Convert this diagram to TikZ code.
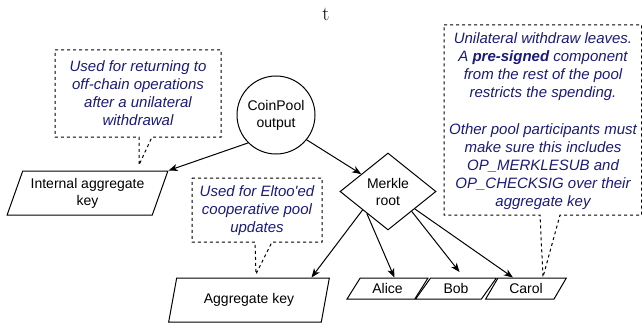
\documentclass[tikz,border=0pt]{standalone}
\usepackage{fontspec}
\setsansfont{Liberation Sans}
\usepackage{tikz}
\usetikzlibrary{shapes.geometric,arrows.meta,calc}
\definecolor{notecolor}{RGB}{26,26,120}

\begin{document}
\begin{tikzpicture}[x=1pt,y=-1pt,
    every node/.style={font=\sffamily\fontsize{14}{17}\selectfont, align=center, inner sep=0pt},
    keybox/.style={draw, line width=1pt, trapezium, trapezium stretches=true, minimum height=44pt},
    leafbox/.style={keybox, minimum height=21pt, minimum width=81pt,
      trapezium left angle=54.5, trapezium right angle=125.5},
    note/.style={text=notecolor, font=\sffamily\itshape\fontsize{15}{18}\selectfont},
    callout/.style={draw, line width=1pt, dash pattern=on 3pt off 3pt},
    edge/.style={line width=1pt, -{Stealth[length=9pt,width=7pt,inset=2.5pt]}}]
    \useasboundingbox (0,0) rectangle (642,326);

    \node[font=\rmfamily\fontsize{20}{24}\selectfont] (title) at (326,14) {t};

    \node[draw, circle, line width=1pt, minimum size=78pt] (coinpool) at (276,115) {CoinPool\\output};
    \node[keybox, minimum width=161pt, trapezium left angle=65.5, trapezium right angle=114.5]
      (internal) at (87.5,193) {Internal aggregate\\key};
    \node[draw, diamond, line width=1pt, minimum width=96pt, minimum height=77pt]
      (merkle) at (388,191.5) {Merkle\\root};
    \node[keybox, minimum width=162pt, trapezium left angle=69, trapezium right angle=111]
      (aggkey) at (249,300) {Aggregate key};
    \node[leafbox] (alice) at (387.5,288.5) {Alice};
    \node[leafbox] (bob) at (456,288.5) {Bob};
    \node[leafbox] (carol) at (526,288.5) {Carol};

    \node[note] (note1) at (138,93.5) {Used for returning to\\off-chain operations\\after a unilateral\\withdrawal};
    \node[note] (note2) at (257,211) {Used for Eltoo\textquotesingle ed\\cooperative pool\\updates};
    \node[note] (note3) at (543,121) {Unilateral withdraw leaves.\\A \textbf{pre-signed} component\\from the rest of the pool\\restricts the spending.\\[19pt]
      Other pool participants must\\make sure this includes\\OP\_MERKLESUB and\\OP\_CHECKSIG over their\\aggregate key};

    \coordinate (tip1) at (139,165);
    \coordinate (tip2) at (256,274);
    \coordinate (tip3) at (543,277);
    \draw[callout] (55,50) -- (221,50) -- (221,137) -- (152,137) -- (tip1) -- (139,137) -- (55,137) -- cycle;
    \draw[callout] (192,178) -- (322,178) -- (322,242) -- (272,242) -- (tip2) -- (255,242) -- (192,242) -- cycle;
    \draw[callout] (444,25) -- (641.5,25) -- (641.5,215) -- (560,215) -- (tip3) -- (540,215) -- (444,215) -- cycle;

    \draw[edge] (coinpool.225) -- (internal.top right corner);
    \draw[edge] (coinpool.321) -- (merkle.147);
    \draw[edge] (merkle.216) -- ($(aggkey.top left corner)!.88!(aggkey.top right corner)$);
    \draw[edge] (merkle.226) -- ($(alice.top left corner)!.5!(alice.top right corner)$);
    \draw[edge, shorten >=7pt] (merkle.320) -- ($(bob.top left corner)!.5!(bob.top right corner)$);
    \draw[edge] (merkle.327) -- ($(carol.top left corner)!.22!(carol.top right corner)$);
\end{tikzpicture}
\end{document}
